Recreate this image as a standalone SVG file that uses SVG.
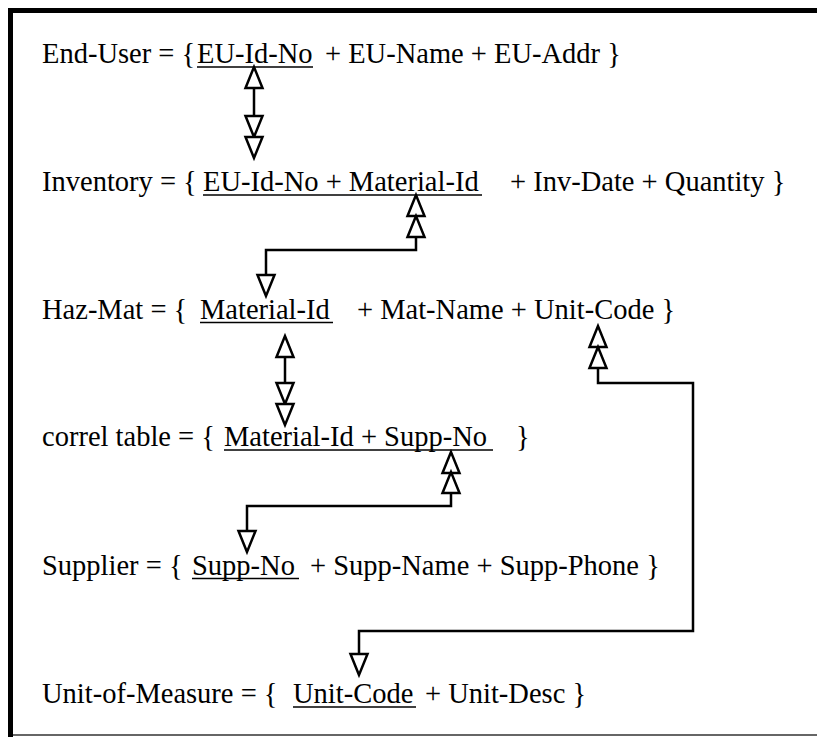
<svg xmlns="http://www.w3.org/2000/svg" xmlns:xlink="http://www.w3.org/1999/xlink" width="817" height="737" viewBox="0 0 817 737">
  <style>
    text { font-family: "Liberation Serif", Tinos, "DejaVu Serif", serif; font-size: 28.5px; fill: #000; }
    .ul { stroke: #000; stroke-width: 1.5; }
    .conn { fill: none; stroke: #000; stroke-width: 2.5; }
    .tri { fill: #fff; stroke: #000; stroke-width: 2.5; stroke-linejoin: miter; }
    .frame { fill: #000; }
  </style>
  <defs>
    <polygon id="triUp" class="tri" points="0,0 -8.5,21 8.5,21"/>
    <polygon id="triDn" class="tri" points="0,0 -8.5,-21 8.5,-21"/>
  </defs>
  <rect width="817" height="737" fill="#fff"/>
  <g id="frame">
    <rect class="frame" x="8" y="8" width="809" height="5"/>
    <rect class="frame" x="8" y="8" width="5" height="729"/>
    <line x1="13" y1="735" x2="817" y2="735" stroke="#333" stroke-width="1.5"/>
  </g>

  <g id="connectors">
    <line class="conn" x1="254" y1="88" x2="254" y2="117"/>
    <use xlink:href="#triUp" x="254" y="67"/>
    <use xlink:href="#triDn" x="254" y="137"/>
    <use xlink:href="#triDn" x="254" y="158"/>
    <path class="conn" d="M416,237 V250 H266 V275"/>
    <use xlink:href="#triUp" x="416" y="195"/>
    <use xlink:href="#triUp" x="416" y="216"/>
    <use xlink:href="#triDn" x="266" y="296"/>
    <line class="conn" x1="285" y1="357" x2="285" y2="383"/>
    <use xlink:href="#triUp" x="285" y="336"/>
    <use xlink:href="#triDn" x="285" y="404"/>
    <use xlink:href="#triDn" x="285" y="425"/>
    <path class="conn" d="M451,493 V506 H247 V531"/>
    <use xlink:href="#triUp" x="451" y="452"/>
    <use xlink:href="#triUp" x="451" y="472"/>
    <use xlink:href="#triDn" x="247" y="552"/>
    <path class="conn" d="M598,368 V383 H693 V631 H359 V654"/>
    <use xlink:href="#triUp" x="598" y="326"/>
    <use xlink:href="#triUp" x="598" y="347"/>
    <use xlink:href="#triDn" x="359" y="675"/>
  </g>

  <g id="end-user">
    <text y="63"><tspan x="42">End-User = {</tspan><tspan x="197">EU-Id-No</tspan><tspan x="325">+ EU-Name + EU-Addr }</tspan></text>
    <line class="ul" x1="197" y1="67" x2="313" y2="67"/>
  </g>
  <g id="inventory">
    <text y="191"><tspan x="42">Inventory = {</tspan><tspan x="203">EU-Id-No + Material-Id</tspan><tspan x="510">+ Inv-Date + Quantity }</tspan></text>
    <line class="ul" x1="203" y1="195" x2="482" y2="195"/>
  </g>
  <g id="haz-mat">
    <text y="319"><tspan x="42">Haz-Mat = {</tspan><tspan x="200">Material-Id</tspan><tspan x="357">+ Mat-Name + Unit-Code }</tspan></text>
    <line class="ul" x1="200" y1="322.5" x2="333" y2="322.5"/>
  </g>
  <g id="correl-table">
    <text y="446"><tspan x="42">correl table = {</tspan><tspan x="224">Material-Id + Supp-No</tspan><tspan x="516">}</tspan></text>
    <line class="ul" x1="224" y1="450" x2="493" y2="450"/>
  </g>
  <g id="supplier">
    <text y="575"><tspan x="42">Supplier = {</tspan><tspan x="192">Supp-No</tspan><tspan x="310">+ Supp-Name + Supp-Phone }</tspan></text>
    <line class="ul" x1="192" y1="578.5" x2="299" y2="578.5"/>
  </g>
  <g id="unit-of-measure">
    <text y="703"><tspan x="42">Unit-of-Measure =  {</tspan><tspan x="293">Unit-Code</tspan><tspan x="425">+ Unit-Desc }</tspan></text>
    <line class="ul" x1="293" y1="707" x2="416" y2="707"/>
  </g>
</svg>
